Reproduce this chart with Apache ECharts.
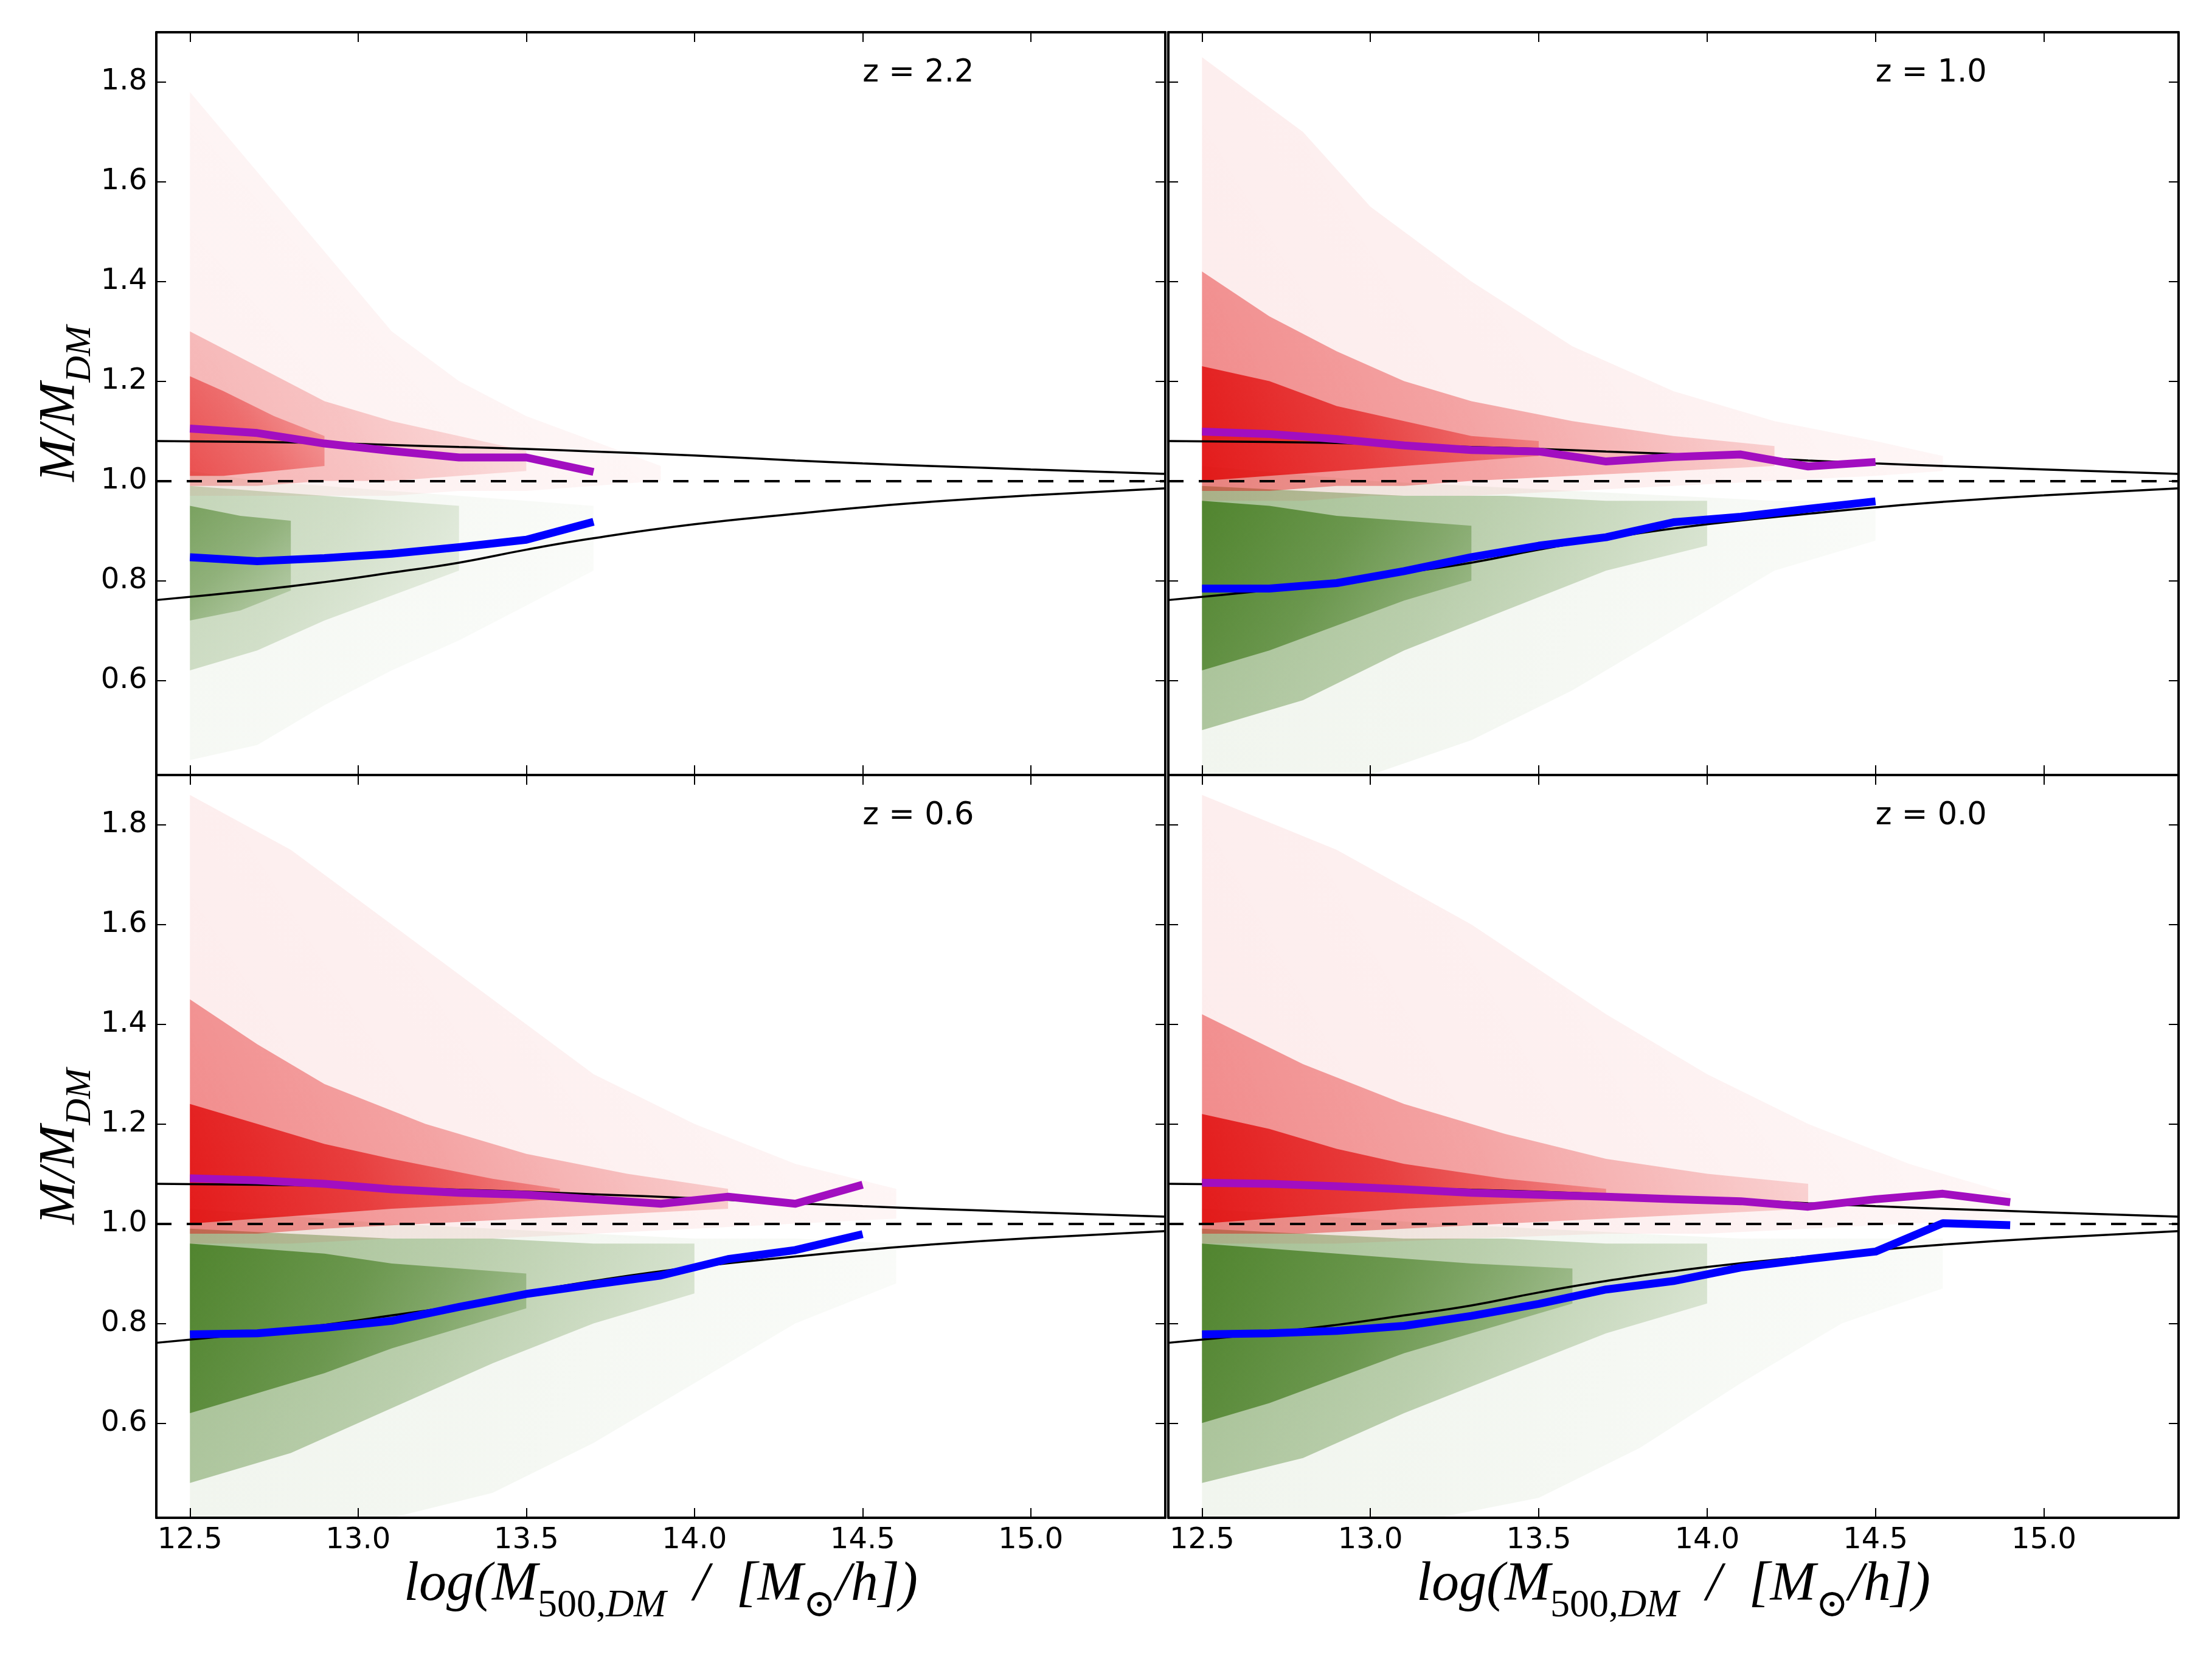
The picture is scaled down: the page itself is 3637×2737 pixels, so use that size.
<!DOCTYPE html>
<html><head><meta charset="utf-8">
<script src="https://cdn.jsdelivr.net/npm/echarts@6/dist/echarts.min.js"></script>
<style>html,body{margin:0;padding:0;background:#fff}#c{width:3637px;height:2737px}</style>
</head><body><div id="c"></div>
<script>
// ---------------- data ----------------
const xTicks = [12.5, 13.0, 13.5, 14.0, 14.5, 15.0];
const yTicks = [0.6, 0.8, 1.0, 1.2, 1.4, 1.6, 1.8];
const panelLabels = ['z = 2.2', 'z = 1.0', 'z = 0.6', 'z = 0.0'];
const zLabelPos = [14.5, 1.8];
const unity = 1.0;

// theoretical curves (same in every panel)
const curveX     = [12.4, 12.7, 12.9, 13.1, 13.3, 13.5, 13.7, 14.0, 14.3, 14.5, 14.7, 15.0, 15.4];
const curveUpper = [1.080, 1.078, 1.076, 1.072, 1.068, 1.064, 1.059, 1.051, 1.041, 1.035, 1.030, 1.023, 1.014];
const curveLower = [0.761, 0.781, 0.797, 0.816, 0.836, 0.862, 0.885, 0.913, 0.934, 0.947, 0.958, 0.971, 0.985];

// binned means
const binsZ22   = [12.5, 12.7, 12.9, 13.1, 13.3, 13.5, 13.7];
const purpleZ22 = [1.105, 1.096, 1.075, 1.060, 1.047, 1.047, 1.018];
const blueZ22   = [0.847, 0.839, 0.845, 0.854, 0.867, 0.882, 0.918];

const binsZ10   = [12.5, 12.7, 12.9, 13.1, 13.3, 13.5, 13.7, 13.9, 14.1, 14.3, 14.5];
const purpleZ10 = [1.099, 1.094, 1.084, 1.071, 1.062, 1.059, 1.039, 1.048, 1.053, 1.029, 1.038];
const blueZ10   = [0.784, 0.784, 0.795, 0.819, 0.847, 0.870, 0.887, 0.917, 0.928, 0.944, 0.959];

const binsZ06   = [12.5, 12.7, 12.9, 13.1, 13.3, 13.5, 13.7, 13.9, 14.1, 14.3, 14.5];
const purpleZ06 = [1.091, 1.087, 1.080, 1.069, 1.062, 1.058, 1.049, 1.040, 1.054, 1.040, 1.078];
const blueZ06   = [0.778, 0.780, 0.791, 0.805, 0.833, 0.859, 0.878, 0.896, 0.929, 0.947, 0.979];

const binsZ00   = [12.5, 12.7, 12.9, 13.1, 13.3, 13.5, 13.7, 13.9, 14.1, 14.3, 14.5, 14.7, 14.9];
const purpleZ00 = [1.082, 1.080, 1.075, 1.069, 1.062, 1.058, 1.054, 1.049, 1.045, 1.034, 1.049, 1.060, 1.043];
const blueZ00   = [0.778, 0.780, 0.785, 0.795, 0.815, 0.839, 0.868, 0.885, 0.912, 0.929, 0.944, 1.001, 0.997];

// scatter-cloud envelopes [log mass, low, high] : sparse / medium / dense
const redSparseZ22   = [[12.5,0.97,1.78],[12.7,0.97,1.62],[12.9,0.97,1.46],[13.1,0.97,1.30],[13.3,0.98,1.20],[13.5,0.98,1.13],[13.7,0.99,1.08],[13.9,1.00,1.03]];
const redMidZ22      = [[12.5,0.99,1.30],[12.7,0.99,1.23],[12.9,1.00,1.16],[13.1,1.00,1.12],[13.3,1.01,1.09],[13.5,1.02,1.06]];
const redCoreZ22     = [[12.5,1.01,1.21],[12.6,1.01,1.18],[12.75,1.02,1.13],[12.9,1.03,1.09]];
const greenSparseZ22 = [[12.5,0.44,1.02],[12.7,0.47,1.00],[12.9,0.55,0.99],[13.1,0.62,0.98],[13.3,0.68,0.97],[13.5,0.75,0.96],[13.7,0.82,0.95]];
const greenMidZ22    = [[12.5,0.62,0.99],[12.7,0.66,0.98],[12.9,0.72,0.97],[13.1,0.77,0.96],[13.3,0.82,0.95]];
const greenCoreZ22   = [[12.5,0.72,0.95],[12.65,0.74,0.93],[12.8,0.78,0.92]];

const redSparseZ10   = [[12.5,0.96,1.85],[12.8,0.96,1.70],[13.0,0.97,1.55],[13.3,0.97,1.40],[13.6,0.98,1.27],[13.9,0.99,1.18],[14.2,1.00,1.12],[14.5,1.01,1.08],[14.7,1.02,1.05]];
const redMidZ10      = [[12.5,0.98,1.42],[12.7,0.98,1.33],[12.9,0.99,1.26],[13.1,0.99,1.20],[13.3,1.00,1.16],[13.6,1.01,1.12],[13.9,1.02,1.09],[14.2,1.03,1.07]];
const redCoreZ10     = [[12.5,1.00,1.23],[12.7,1.01,1.20],[12.9,1.02,1.15],[13.1,1.03,1.12],[13.3,1.04,1.09],[13.5,1.05,1.08]];
const greenSparseZ10 = [[12.5,0.41,1.03],[13.0,0.41,1.00],[13.3,0.48,0.99],[13.6,0.58,0.98],[13.9,0.70,0.97],[14.2,0.82,0.96],[14.5,0.88,0.96]];
const greenMidZ10    = [[12.5,0.50,0.99],[12.8,0.56,0.98],[13.1,0.66,0.97],[13.4,0.74,0.97],[13.7,0.82,0.96],[14.0,0.87,0.96]];
const greenCoreZ10   = [[12.5,0.62,0.96],[12.7,0.66,0.95],[12.9,0.71,0.93],[13.1,0.76,0.92],[13.3,0.80,0.91]];

const redSparseZ06   = [[12.5,0.96,1.86],[12.8,0.96,1.75],[13.1,0.97,1.60],[13.4,0.97,1.45],[13.7,0.98,1.30],[14.0,0.99,1.20],[14.3,1.00,1.12],[14.6,1.01,1.07]];
const redMidZ06      = [[12.5,0.98,1.45],[12.7,0.98,1.36],[12.9,0.99,1.28],[13.2,1.00,1.20],[13.5,1.01,1.14],[13.8,1.02,1.10],[14.1,1.03,1.07]];
const redCoreZ06     = [[12.5,1.00,1.24],[12.7,1.01,1.20],[12.9,1.02,1.16],[13.1,1.03,1.13],[13.4,1.04,1.09],[13.6,1.05,1.07]];
const greenSparseZ06 = [[12.5,0.41,1.03],[13.1,0.41,1.00],[13.4,0.46,0.99],[13.7,0.56,0.98],[14.0,0.68,0.97],[14.3,0.80,0.97],[14.6,0.88,0.96]];
const greenMidZ06    = [[12.5,0.48,0.99],[12.8,0.54,0.98],[13.1,0.63,0.97],[13.4,0.72,0.97],[13.7,0.80,0.96],[14.0,0.86,0.96]];
const greenCoreZ06   = [[12.5,0.62,0.96],[12.7,0.66,0.95],[12.9,0.70,0.94],[13.1,0.75,0.92],[13.3,0.79,0.91],[13.5,0.83,0.90]];

const redSparseZ00   = [[12.5,0.96,1.86],[12.9,0.96,1.75],[13.3,0.97,1.60],[13.7,0.98,1.42],[14.0,0.98,1.30],[14.3,0.99,1.20],[14.6,1.00,1.12],[14.9,1.01,1.06]];
const redMidZ00      = [[12.5,0.98,1.42],[12.8,0.98,1.32],[13.1,0.99,1.24],[13.4,1.00,1.18],[13.7,1.01,1.13],[14.0,1.02,1.10],[14.3,1.03,1.08]];
const redCoreZ00     = [[12.5,1.00,1.22],[12.7,1.01,1.19],[12.9,1.02,1.15],[13.1,1.03,1.12],[13.4,1.04,1.09],[13.7,1.05,1.07]];
const greenSparseZ00 = [[12.5,0.41,1.03],[13.2,0.41,1.00],[13.5,0.45,0.99],[13.8,0.55,0.98],[14.1,0.68,0.97],[14.4,0.80,0.97],[14.7,0.87,0.97]];
const greenMidZ00    = [[12.5,0.48,0.99],[12.8,0.53,0.98],[13.1,0.62,0.97],[13.4,0.70,0.97],[13.7,0.78,0.96],[14.0,0.84,0.96]];
const greenCoreZ00   = [[12.5,0.60,0.96],[12.7,0.64,0.95],[12.9,0.69,0.94],[13.1,0.74,0.93],[13.3,0.78,0.92],[13.6,0.84,0.91]];

// ---------------- assembly ----------------
const panels = [
  {bins: binsZ22, purple: purpleZ22, blue: blueZ22, red: [redSparseZ22, redMidZ22, redCoreZ22], green: [greenSparseZ22, greenMidZ22, greenCoreZ22]},
  {bins: binsZ10, purple: purpleZ10, blue: blueZ10, red: [redSparseZ10, redMidZ10, redCoreZ10], green: [greenSparseZ10, greenMidZ10, greenCoreZ10]},
  {bins: binsZ06, purple: purpleZ06, blue: blueZ06, red: [redSparseZ06, redMidZ06, redCoreZ06], green: [greenSparseZ06, greenMidZ06, greenCoreZ06]},
  {bins: binsZ00, purple: purpleZ00, blue: blueZ00, red: [redSparseZ00, redMidZ00, redCoreZ00], green: [greenSparseZ00, greenMidZ00, greenCoreZ00]}
];
const levelAlpha = [[0.06, 0.26, 0.55], [0.08, 0.42, 0.8], [0.08, 0.42, 0.8], [0.08, 0.42, 0.8]];
const RED = [224, 0, 0], GREEN = [60, 118, 22];

const grids = [
  {left: 257, top: 53, width: 1659, height: 1221},
  {left: 1921, top: 53, width: 1661, height: 1221},
  {left: 257, top: 1274, width: 1659, height: 1221},
  {left: 1921, top: 1274, width: 1661, height: 1221}
];

const serif = '"Liberation Serif", "DejaVu Serif", serif';
function makeRich(big, small, pad) {
  return {
    a: {fontFamily: serif, fontStyle: 'italic', fontSize: big, lineHeight: big, verticalAlign: 'top', color: '#000'},
    b: {fontFamily: serif, fontSize: small, lineHeight: small, verticalAlign: 'top', padding: [pad, 0, 0, 0], color: '#000'},
    c: {fontFamily: serif, fontStyle: 'italic', fontSize: small, lineHeight: small, verticalAlign: 'top', padding: [pad, 0, 0, 0], color: '#000'}
  };
}
const richX = makeRich(90, 64, 47);
const richY = makeRich(84, 60, 44);
const xName = '{a|log(M}{b|500,}{c|DM}{a|  /  [M}{b|⊙}{a|/h])}';
const yName = '{a|M/M}{c|DM}';

const tickStyle = {show: true, inside: true, length: 16, lineStyle: {color: '#000', width: 2}};
const lineStyleAxis = {show: true, onZero: false, lineStyle: {color: '#000', width: 4}};

const xAxes = [], yAxes = [];
grids.forEach((g, p) => {
  const bottomRow = p >= 2, leftCol = p % 2 === 0;
  xAxes.push({type: 'value', gridIndex: p, position: 'bottom', min: 12.4, max: 15.4, z: 10,
    axisLine: lineStyleAxis, axisTick: Object.assign({customValues: xTicks}, tickStyle),
    axisLabel: {show: bottomRow, customValues: xTicks, formatter: v => v.toFixed(1), margin: 14,
      color: '#000', fontSize: 48, fontFamily: '"DejaVu Sans"'},
    splitLine: {show: false},
    name: bottomRow ? xName : '', nameLocation: 'middle', nameGap: 66, nameTextStyle: {rich: richX}});
  xAxes.push({type: 'value', gridIndex: p, position: 'top', min: 12.4, max: 15.4, z: 10,
    axisLine: lineStyleAxis, axisTick: Object.assign({customValues: xTicks}, tickStyle),
    axisLabel: {show: false}, splitLine: {show: false}});
  yAxes.push({type: 'value', gridIndex: p, position: 'left', min: 0.41, max: 1.9, z: 10,
    axisLine: lineStyleAxis, axisTick: Object.assign({customValues: yTicks}, tickStyle),
    axisLabel: {show: leftCol, customValues: yTicks, formatter: v => v.toFixed(1), margin: 15,
      color: '#000', fontSize: 48, fontFamily: '"DejaVu Sans"'},
    splitLine: {show: false},
    name: leftCol ? yName : '', nameLocation: 'middle', nameRotate: 90, nameGap: 98, nameTextStyle: {rich: richY}});
  yAxes.push({type: 'value', gridIndex: p, position: 'right', min: 0.41, max: 1.9, z: 10,
    axisLine: lineStyleAxis, axisTick: Object.assign({customValues: yTicks}, tickStyle),
    axisLabel: {show: false}, splitLine: {show: false}});
});

function rgba(c, a) { return 'rgba(' + c[0] + ',' + c[1] + ',' + c[2] + ',' + a.toFixed(3) + ')'; }

// red clouds thin out towards upper right, green clouds towards lower right
function bandSeries(env, col, alpha, p, isRed) {
  return {
    type: 'custom', xAxisIndex: 2 * p, yAxisIndex: 2 * p, clip: true, z: 1, silent: true,
    data: env, encode: {x: 0, y: [1, 2]},
    renderItem: function (params, api) {
      if (params.dataIndex !== 0) return null;
      const lower = env.map(d => api.coord([d[0], d[1]]));
      const upper = env.map(d => api.coord([d[0], d[2]])).reverse();
      const grad = isRed
        ? new echarts.graphic.LinearGradient(0, 1, 1, 0, [
            {offset: 0, color: rgba(col, alpha)},
            {offset: 0.45, color: rgba(col, alpha * 0.75)},
            {offset: 1, color: rgba(col, alpha * 0.25)}])
        : new echarts.graphic.LinearGradient(0, 0, 1, 1, [
            {offset: 0, color: rgba(col, alpha)},
            {offset: 0.45, color: rgba(col, alpha * 0.75)},
            {offset: 1, color: rgba(col, alpha * 0.25)}]);
      return {type: 'polygon', shape: {points: lower.concat(upper)}, style: {fill: grad}};
    }
  };
}

const series = [];
panels.forEach((pd, p) => {
  const xi = 2 * p, yi = 2 * p;
  [0, 1, 2].forEach(l => series.push(bandSeries(pd.green[l], GREEN, levelAlpha[p][l], p, false)));
  [0, 1, 2].forEach(l => series.push(bandSeries(pd.red[l], RED, levelAlpha[p][l], p, true)));
  series.push({type: 'line', xAxisIndex: xi, yAxisIndex: yi, z: 3, symbol: 'none', smooth: true, silent: true,
    data: curveX.map((x, i) => [x, curveUpper[i]]), lineStyle: {color: '#000', width: 3.5},
    markLine: {silent: true, symbol: 'none', label: {show: false}, animation: false,
      lineStyle: {color: '#000', width: 4, type: [25, 25]}, data: [{yAxis: unity}]}});
  series.push({type: 'line', xAxisIndex: xi, yAxisIndex: yi, z: 3, symbol: 'none', smooth: true, silent: true,
    data: curveX.map((x, i) => [x, curveLower[i]]), lineStyle: {color: '#000', width: 3.5}});
  series.push({type: 'line', xAxisIndex: xi, yAxisIndex: yi, z: 5, symbol: 'none', silent: true,
    data: pd.bins.map((x, i) => [x, pd.purple[i]]), lineStyle: {color: '#a20ec0', width: 13, cap: 'butt', join: 'round'}});
  series.push({type: 'line', xAxisIndex: xi, yAxisIndex: yi, z: 5, symbol: 'none', silent: true,
    data: pd.bins.map((x, i) => [x, pd.blue[i]]), lineStyle: {color: '#0000ff', width: 13, cap: 'butt', join: 'round'}});
  series.push({type: 'custom', xAxisIndex: xi, yAxisIndex: yi, z: 6, silent: true, data: [zLabelPos],
    renderItem: function (params, api) {
      const pt = api.coord([api.value(0), api.value(1)]);
      return {type: 'text', x: pt[0], y: pt[1] + 11,
        style: {text: panelLabels[p], fill: '#000', fontSize: 51, fontFamily: '"DejaVu Sans"', align: 'left', verticalAlign: 'bottom'}};
    }});
});

const chart = echarts.init(document.getElementById('c'), null, {renderer: 'canvas'});
chart.setOption({
  animation: false,
  backgroundColor: '#fff',
  grid: grids,
  xAxis: xAxes,
  yAxis: yAxes,
  series: series
});
</script>
</body></html>
